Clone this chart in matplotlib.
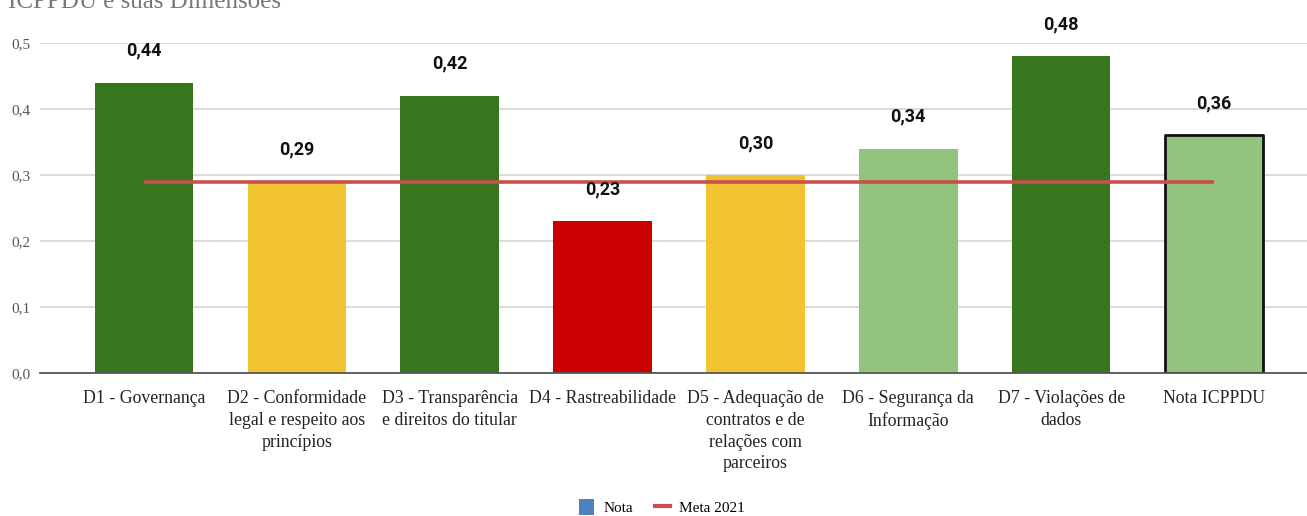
import matplotlib.pyplot as plt
from matplotlib.patches import Patch
from matplotlib.lines import Line2D

# ICPPDU scores per dimension
categories = [
    "D1 - Governança",
    "D2 - Conformidade\nlegal e respeito aos\nprincípios",
    "D3 - Transparência\ne direitos do titular",
    "D4 - Rastreabilidade",
    "D5 - Adequação de\ncontratos e de\nrelações com\nparceiros",
    "D6 - Segurança da\nInformação",
    "D7 - Violações de\ndados",
    "Nota ICPPDU",
]
nota = [0.44, 0.29, 0.42, 0.23, 0.30, 0.34, 0.48, 0.36]
meta_2021 = [0.29] * len(categories)
bar_colors = ["#38761d", "#f1c232", "#38761d", "#cc0000",
              "#f1c232", "#93c47d", "#38761d", "#93c47d"]
yticks = [0.0, 0.1, 0.2, 0.3, 0.4, 0.5]

serif = "Liberation Serif"

fig = plt.figure(figsize=(13.07, 5.16), dpi=100)
ax = fig.add_axes([40 / 1307, 143 / 516, 1278 / 1307, 330 / 516])

x = list(range(len(categories)))
bars = ax.bar(x, nota, width=0.645, color=bar_colors, zorder=2)
last = bars[-1]
last.set_edgecolor("#111111")
last.set_linewidth(2)
last.set_joinstyle("round")

ax.plot(x, meta_2021, color="#c9504d", lw=2.6, zorder=3, solid_capstyle="butt")

for xi, v in zip(x, nota):
    ax.annotate(f"{v:.2f}".replace(".", ","), (xi, v), xytext=(0, 23),
                textcoords="offset points", ha="center", va="center",
                fontsize=13, fontweight="bold", family="Roboto",
                color="#111111", annotation_clip=False, zorder=4)

ax.set_xlim(-0.68, 7.68)
ax.set_ylim(0, 0.5)
ax.set_yticks(yticks)
ax.set_yticklabels([f"{t:.1f}".replace(".", ",") for t in yticks],
                   family=serif, fontsize=11, color="#555555")
ax.set_xticks(x)
ax.set_xticklabels(categories, family=serif, fontsize=12.8, color="#222222",
                   linespacing=1.38, va="top")
ax.tick_params(axis="both", length=0)
ax.tick_params(axis="y", pad=7)
ax.tick_params(axis="x", pad=12)
ax.grid(axis="y", color="#d6d6d6", lw=1.2, zorder=0)
for s in ["top", "right", "left"]:
    ax.spines[s].set_visible(False)
ax.spines["bottom"].set_color("#555555")
ax.spines["bottom"].set_linewidth(1.3)
ax.spines["bottom"].set_zorder(3)

fig.text(8 / 1307, 1 - 7.5 / 516, "ICPPDU e suas Dimensões", family=serif,
         fontsize=18, color="#777777", ha="left", va="baseline")

handles = [Patch(facecolor="#4f81bd", edgecolor="none"),
           Line2D([], [], color="#c9504d", lw=3)]
fig.legend(handles, ["Nota", "Meta 2021"], loc="center",
           bbox_to_anchor=(662 / 1307, 1 - 507 / 516), ncol=2, frameon=False,
           prop={"family": serif, "size": 11}, handlelength=1.0,
           handleheight=1.2, columnspacing=1.4, handletextpad=0.6)

fig.savefig("out.png", dpi=100)
